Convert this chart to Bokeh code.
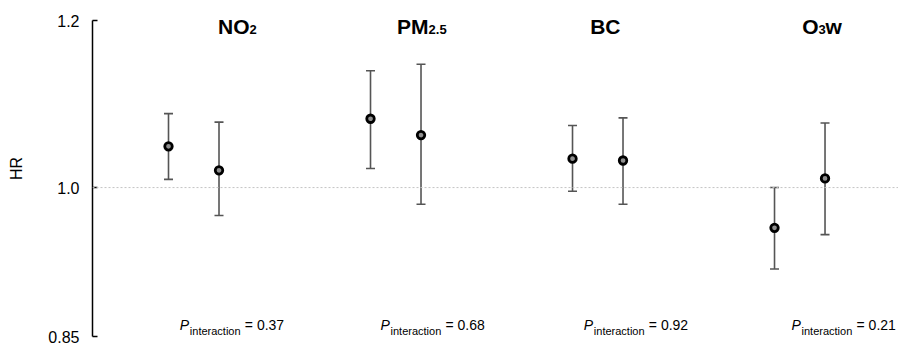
import json
from bokeh.plotting import figure
from bokeh.models import (ColumnDataSource, Whisker, TeeHead, Span, Range1d,
                          FixedTicker, CustomJSTickFormatter)
from bokeh.core.properties import value
from bokeh.embed import file_html
from bokeh.resources import INLINE

# ---------------- data ----------------
header_main = ["NO", "PM", "BC", "O"]
header_sub = ["2", "2.5", "", "3"]
header_tail = ["", "", "", "w"]
group_index = [0, 0, 1, 1, 2, 2, 3, 3]
sub_index = [0, 1, 0, 1, 0, 1, 0, 1]
hr = [1.046, 1.019, 1.078, 1.059, 1.032, 1.030, 0.957, 1.010]
ci_low = [1.009, 0.970, 1.021, 0.982, 0.996, 0.982, 0.915, 0.950]
ci_high = [1.084, 1.074, 1.136, 1.144, 1.070, 1.079, 1.000, 1.073]
p_interaction = ["0.37", "0.68", "0.92", "0.21"]
y_ticks = [0.85, 1.0, 1.2]
y_tick_labels = ["0.85", "1.0", "1.2"]

# ---------------- layout constants ----------------
FONT_NAME = "Liberation Sans"
FONT = value(FONT_NAME)
GROUP_STEP = 4
header_split_x = [1.604, 5.149, 8.950, 12.871]
header_base_y = 1.1926
header_sub_y = 1.1888
p_start_x = [0.224, 4.198, 8.224, 12.337]
p_main_y = 0.8603
p_sub_y = 0.8550

xs = [g * GROUP_STEP + s for g, s in zip(group_index, sub_index)]
src = ColumnDataSource(dict(x=xs, hr=hr, lo=ci_low, hi=ci_high))

p = figure(width=898, height=346, output_backend="svg", toolbar_location=None,
           y_axis_type="log", x_axis_location=None,
           x_range=Range1d(-1.505, 14.455), y_range=Range1d(0.85, 1.22648),
           min_border_left=92, min_border_right=0, min_border_top=0,
           min_border_bottom=10)
p.outline_line_color = None
p.xgrid.visible = False
p.ygrid.visible = False
p.background_fill_color = "white"
p.border_fill_color = "white"

# y axis
ax = p.yaxis[0]
ax.bounds = (y_ticks[0], y_ticks[-1])
ax.ticker = FixedTicker(ticks=y_ticks)
label_map = {f"{v:g}": lab for v, lab in zip(y_ticks, y_tick_labels)}
ax.formatter = CustomJSTickFormatter(
    code="const m = %s; const k = String(tick); return (k in m) ? m[k] : k;" % json.dumps(label_map))
ax.minor_tick_line_color = None
ax.major_tick_in = 5
ax.major_tick_out = 0
ax.major_tick_line_color = "black"
ax.major_tick_line_width = 1.5
ax.axis_line_color = "black"
ax.axis_line_width = 1.5
ax.major_label_standoff = 13
ax.major_label_text_font = FONT_NAME
ax.major_label_text_font_size = "16px"
ax.major_label_text_color = "black"
ax.axis_label = "HR"
ax.axis_label_text_font = FONT_NAME
ax.axis_label_text_font_size = "16px"
ax.axis_label_text_font_style = "normal"
ax.axis_label_text_color = "black"
ax.axis_label_standoff = 20

# reference line at HR = 1
p.add_layout(Span(location=1.0, dimension="width", line_color="#c4c4c4",
                  line_dash="2 2", line_width=1))

# error bars
err_col = "#555555"
w = Whisker(base="x", lower="lo", upper="hi", source=src, dimension="height",
            line_color=err_col, line_width=1.6,
            upper_head=TeeHead(size=9, line_color=err_col, line_width=1.6),
            lower_head=TeeHead(size=9, line_color=err_col, line_width=1.6))
p.add_layout(w)

# points
p.scatter("x", "hr", source=src, size=7.5, fill_color="#909090",
          line_color="black", line_width=2.8)

# headers
p.text(x=header_split_x, y=[header_base_y] * 4, text=header_main,
       text_font=FONT, text_font_size="21px", text_font_style="bold",
       text_align="right", text_baseline="alphabetic", text_color="black")
p.text(x=header_split_x, y=[header_sub_y] * 4, text=header_sub,
       text_font=FONT, text_font_size="13px", text_font_style="bold",
       text_align="left", text_baseline="alphabetic", text_color="black")
p.text(x=header_split_x, y=[header_base_y] * 4, text=header_tail,
       text_font=FONT, text_font_size="21px", text_font_style="bold",
       text_align="left", text_baseline="alphabetic", text_color="black",
       x_offset=7)

# P interaction labels
p.text(x=p_start_x, y=[p_main_y] * 4, text=["P"] * 4,
       text_font=FONT, text_font_size="14px", text_font_style="italic",
       text_align="left", text_baseline="alphabetic", text_color="black")
p.text(x=p_start_x, y=[p_sub_y] * 4, text=["interaction"] * 4,
       text_font=FONT, text_font_size="11px",
       text_align="left", text_baseline="alphabetic", text_color="black",
       x_offset=10)
p.text(x=p_start_x, y=[p_main_y] * 4, text=["= " + v for v in p_interaction],
       text_font=FONT, text_font_size="14px",
       text_align="left", text_baseline="alphabetic", text_color="black",
       x_offset=65)

open("out.html", "w").write(file_html(p, INLINE))
